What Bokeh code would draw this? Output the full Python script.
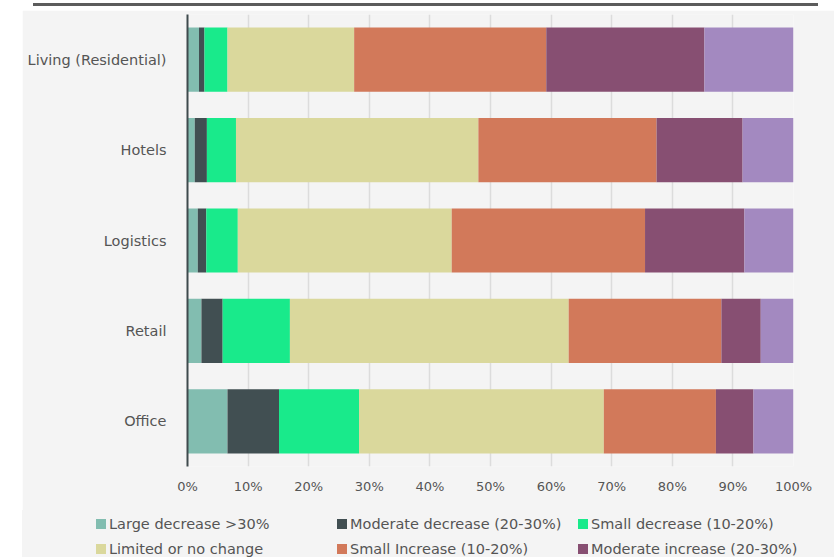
from bokeh.plotting import figure
from bokeh.models import ColumnDataSource, FactorRange, FixedTicker, Div
from bokeh.layouts import column
from bokeh.embed import file_html
from bokeh.resources import INLINE

# ---- data (top to bottom as shown) ----
categories = ["Living (Residential)", "Hotels", "Logistics", "Retail", "Office"]
series = ["Large decrease >30%", "Moderate decrease (20-30%)", "Small decrease (10-20%)",
          "Limited or no change", "Small Increase (10-20%)", "Moderate increase (20-30%)",
          "Large increase (>30%)"]
large_decrease = [1.9, 1.2, 1.7, 2.3, 6.6]
moderate_decrease = [0.9, 2.0, 1.4, 3.5, 8.5]
small_decrease = [3.8, 4.8, 5.2, 11.1, 13.2]
limited_change = [20.9, 40.0, 35.3, 46.0, 40.4]
small_increase = [31.7, 29.4, 31.9, 25.2, 18.5]
moderate_increase = [26.1, 14.2, 16.4, 6.5, 6.2]
large_increase = [14.7, 8.4, 8.1, 5.4, 6.6]
x_ticks = [0, 10, 20, 30, 40, 50, 60, 70, 80, 90, 100]
x_tick_labels = ["0%", "10%", "20%", "30%", "40%", "50%", "60%", "70%", "80%", "90%", "100%"]

colors = ["#82bdb0", "#414f52", "#19ea8b", "#dad89c", "#d2795a", "#874f72", "#a389c0"]
keys = ["s0", "s1", "s2", "s3", "s4", "s5", "s6"]
all_series = [large_decrease, moderate_decrease, small_decrease, limited_change,
              small_increase, moderate_increase, large_increase]

data = {"category": categories}
for k, vals in zip(keys, all_series):
    data[k] = vals
source = ColumnDataSource(data)

BG = "#f4f4f4"
FONT = "DejaVu Sans"
TXT = "#555555"

p = figure(width=812, height=500, output_backend="svg", toolbar_location=None,
           y_range=FactorRange(factors=list(reversed(categories)), range_padding=0),
           x_range=(0, 100),
           min_border_left=165, min_border_right=41, min_border_top=4, min_border_bottom=44)
p.margin = (4, 0, 0, 22)
p.background_fill_color = BG
p.border_fill_color = BG
p.outline_line_color = None

p.hbar_stack(keys, y="category", height=0.71, color=colors, line_color=None, source=source)

# axes
p.xaxis.ticker = FixedTicker(ticks=x_ticks)
p.xaxis.major_label_overrides = {t: l for t, l in zip(x_ticks, x_tick_labels)}
p.xaxis.axis_line_color = None
p.xaxis.major_tick_line_color = None
p.xaxis.minor_tick_line_color = None
p.xaxis.major_label_standoff = 6
p.xaxis.major_label_text_font = FONT
p.xaxis.major_label_text_font_size = "13px"
p.xaxis.major_label_text_color = TXT

p.yaxis.axis_line_color = "#3f4a4d"
p.yaxis.axis_line_width = 2
p.yaxis.major_tick_line_color = None
p.yaxis.minor_tick_line_color = None
p.yaxis.major_label_standoff = 15
p.yaxis.major_label_text_font = FONT
p.yaxis.major_label_text_font_size = "14.5px"
p.yaxis.major_label_text_color = TXT

p.xgrid.grid_line_color = "#dcdcdc"
p.xgrid.grid_line_width = 1.5
p.ygrid.grid_line_color = None

# ---- legend strip: the reference shows the first two rows (third row is cut off) ----
parts = []
for i, (lab, c) in enumerate(zip(series[:6], colors[:6])):
    row, col = divmod(i, 3)
    left = 74 + col * 241
    cy = 14 + row * 25
    parts.append(
        f'<span style="position:absolute;left:{left}px;top:{cy - 5}px;width:10px;'
        f'height:10px;background:{c};"></span>'
        f'<span style="position:absolute;left:{left + 13}px;top:{cy - 9}px;'
        f'line-height:18px;white-space:nowrap;">{lab}</span>'
    )
legend_html = (
    f'<div style="position:relative;width:812px;height:47px;overflow:hidden;'
    f'background:{BG};font-family:\'{FONT}\';font-size:14.5px;color:{TXT};">'
    + "".join(parts) + "</div>"
)
legend_div = Div(text=legend_html, width=812, height=47, margin=(0, 0, 0, 22))

top_line = Div(text="", width=785, height=3, margin=(3, 0, 0, 33),
               styles={"background-color": "#5c5c5c"})

layout = column(top_line, p, legend_div, spacing=0)

open("out.html", "w").write(file_html(layout, INLINE))
